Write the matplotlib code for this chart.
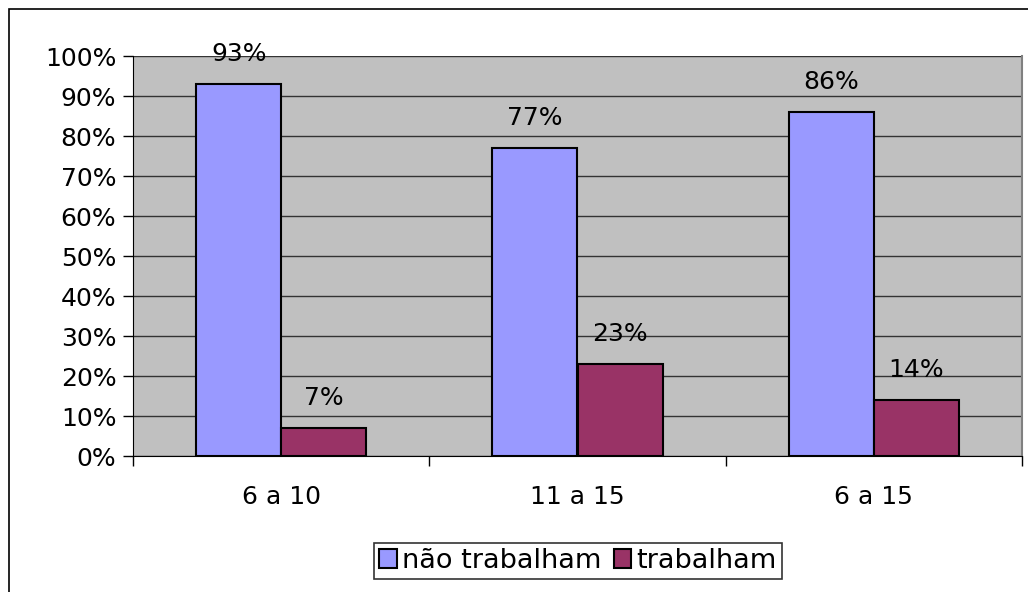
import numpy as np
import matplotlib
matplotlib.use("Agg")
import matplotlib.pyplot as plt
from matplotlib.patches import Rectangle

# --- data ---
categories = ["6 a 10", "11 a 15", "6 a 15"]
nao_trabalham = [93, 77, 86]
trabalham = [7, 23, 14]
y_ticks = [0, 10, 20, 30, 40, 50, 60, 70, 80, 90, 100]

plt.rcParams["font.family"] = ["DejaVu Sans"]

fig = plt.figure(figsize=(10.28, 5.92), dpi=100)
ax = fig.add_axes([133 / 1028, 1 - 456 / 592, (1022 - 133) / 1028, 400 / 592])

# outer chart border (cropped at right/bottom like the original)
fig.patches.append(Rectangle((9 / 1028, -0.05), 1.1, 1 - 9 / 592 + 0.05,
                             transform=fig.transFigure, fill=False,
                             edgecolor="black", linewidth=1.2))

x = np.arange(len(categories))
w = 0.287
b1 = ax.bar(x - w / 2, nao_trabalham, w, color="#9999FF", edgecolor="black",
            linewidth=1.5, label="não trabalham", zorder=3)
b2 = ax.bar(x + w / 2, trabalham, w, color="#993366", edgecolor="black",
            linewidth=1.5, label="trabalham", zorder=3)

for bars, vals in [(b1, nao_trabalham), (b2, trabalham)]:
    for r, v in zip(bars, vals):
        ax.annotate(f"{v}%", (r.get_x() + r.get_width() / 2, v),
                    xytext=(0, 21.6), textcoords="offset points",
                    ha="center", va="center", fontsize=18, zorder=4)

ax.set_facecolor("#C0C0C0")
ax.set_xlim(-0.5, len(categories) - 0.5)
ax.set_ylim(0, 100)
ax.set_yticks(y_ticks)
ax.set_yticklabels([f"{t}%" for t in y_ticks], fontsize=18)
ax.yaxis.grid(True, color="#333333", linewidth=1, zorder=1)

# category labels centred, tick marks between groups
ax.set_xticks(x)
ax.set_xticklabels(categories, fontsize=18)
ax.tick_params(axis="x", length=0, pad=21)
ax.set_xticks(np.arange(len(categories) + 1) - 0.5, minor=True)
ax.tick_params(axis="x", which="minor", length=7, width=1, direction="out")
ax.tick_params(axis="y", length=7, width=1, direction="out", pad=5)

ax.spines["left"].set_color("black")
ax.spines["bottom"].set_color("black")
ax.spines["top"].set_visible(False)
ax.spines["right"].set_color("#808080")
ax.spines["right"].set_linewidth(1.5)

leg = fig.legend(loc="center", bbox_to_anchor=(578 / 1028, 1 - 561 / 592),
                 ncol=2, fontsize=19.5, frameon=True, fancybox=False,
                 edgecolor="black", handlelength=0.65, handleheight=0.65,
                 handletextpad=0.2, columnspacing=0.45, borderpad=0.2,
                 borderaxespad=0)
leg.get_frame().set_linewidth(1.2)

fig.savefig("out.png", dpi=100)
